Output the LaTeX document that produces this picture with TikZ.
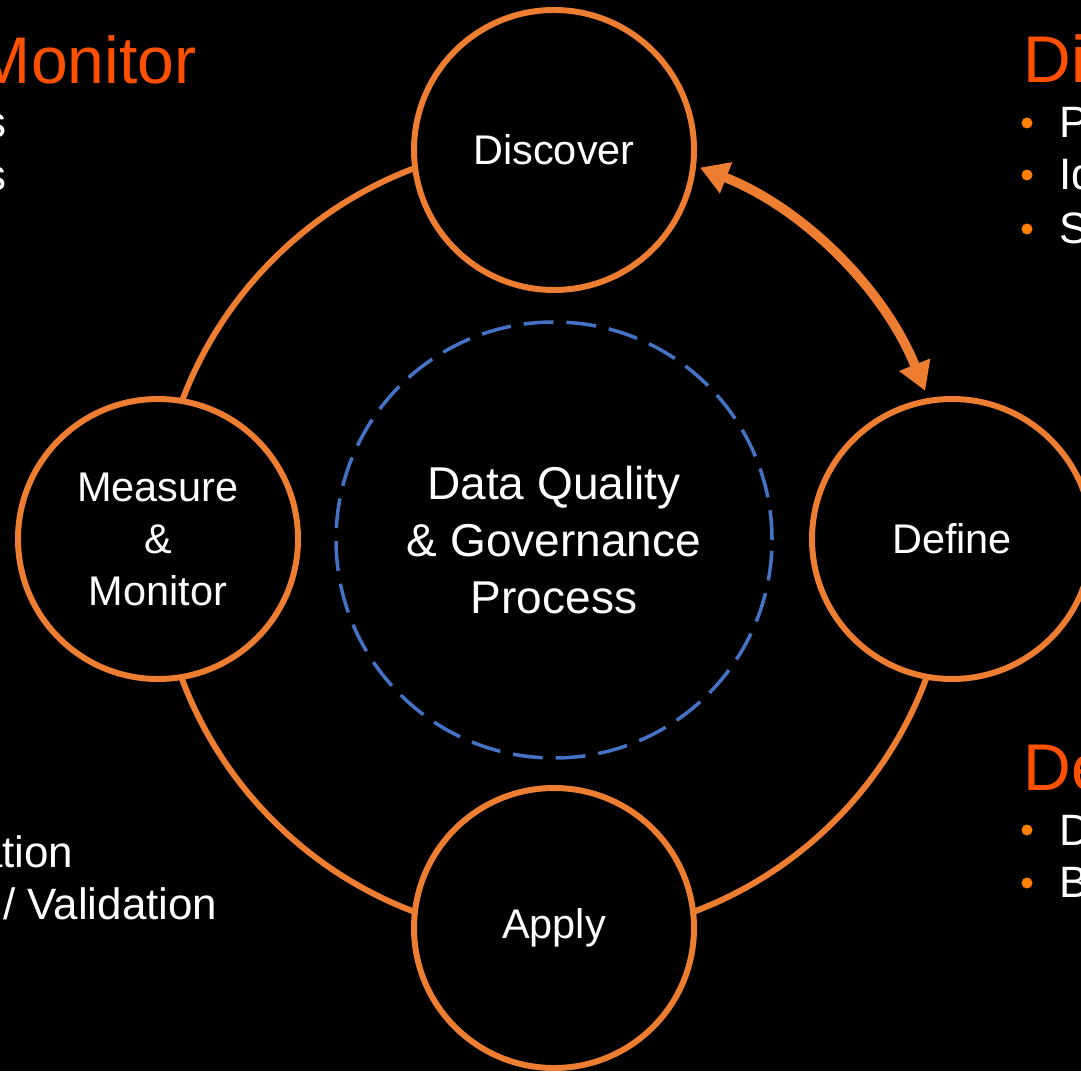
\documentclass[tikz,border=0pt]{standalone}
\usepackage{fontspec}
\setmainfont{Liberation Sans}
\usetikzlibrary{arrows.meta}
\definecolor{ringorange}{RGB}{237,125,49}
\definecolor{headorange}{RGB}{255,80,0}
\definecolor{dotorange}{RGB}{255,128,0}
\definecolor{dashblue}{RGB}{68,114,196}
\tikzset{
  stage/.style={draw=ringorange, fill=black, circle, line width=1.7pt, minimum size=2.8cm, inner sep=0pt, text=white, align=center, font=\fontsize{11.8}{14.8}\selectfont},
  core/.style={draw=dashblue, circle, line width=1pt, dash pattern=on 8.5pt off 3.7pt, minimum size=4.36cm, inner sep=0pt, text=white, align=center, font=\fontsize{13.1}{16.2}\selectfont},
  ring/.style={draw=ringorange, line width=1.7pt},
  flow/.style={draw=ringorange, line width=2.7pt, {Triangle[length=8pt,width=9pt]}-{Triangle[length=8pt,width=9pt]}},
  heading/.style={text=headorange, inner sep=0pt, font=\fontsize{18.8}{22}\selectfont},
  item/.style={text=white, inner sep=0pt, font=\fontsize{12.5}{15}\selectfont},
  bullet/.style={fill=dotorange, circle, inner sep=0pt, minimum size=0.11cm},
}
\begin{document}
\begin{tikzpicture}
\fill[black] (0,0) rectangle (10.81,10.71);
\useasboundingbox (0,0) rectangle (10.81,10.71);
\clip (0,0) rectangle (10.81,10.71);

\coordinate (c) at (5.54,5.31);
\path[ring] ([shift={(90:3.97)}]c) arc[start angle=90, end angle=360, radius=3.97];
\path[flow] ([shift={(68.6:4.0)}]c) arc[start angle=68.6, end angle=21.9, radius=4.0];

\node[core] (dq) at (c) {Data Quality\\\& Governance\\Process};
\node[stage] (disc) at (5.54,9.21) {Discover};
\node[stage] (def) at (9.52,5.32) {Define};
\node[stage] (apply) at (5.54,1.43) {Apply};
\node[stage] (meas) at (1.58,5.32) {Measure\\\&\\Monitor};

\node[heading, anchor=base east] (mtitle) at (1.97,9.87) {Monitor};
\node[item, anchor=base east] (m1) at (0.07,9.33) {s};
\node[item, anchor=base east] (m2) at (0.07,8.80) {s};
\node[item, anchor=base east] (m3) at (0.74,2.04) {ation};
\node[item, anchor=base east] (m4) at (2.18,1.52) {/ Validation};

\node[heading, anchor=base west] (dtitle) at (10.23,9.88) {Dis};
\node[bullet] (d1) at (10.27,9.48) {};
\node[bullet] (d2) at (10.27,8.96) {};
\node[bullet] (d3) at (10.27,8.42) {};
\node[item, anchor=base west] (dt1) at (10.59,9.33) {P};
\node[item, anchor=base west] (dt2) at (10.59,8.81) {Id};
\node[item, anchor=base west] (dt3) at (10.59,8.27) {S};

\node[heading, anchor=base west] (ftitle) at (10.23,2.81) {De};
\node[bullet] (f1) at (10.27,2.41) {};
\node[bullet] (f2) at (10.27,1.88) {};
\node[item, anchor=base west] (ft1) at (10.59,2.26) {D};
\node[item, anchor=base west] (ft2) at (10.59,1.74) {B};
\end{tikzpicture}
\end{document}
